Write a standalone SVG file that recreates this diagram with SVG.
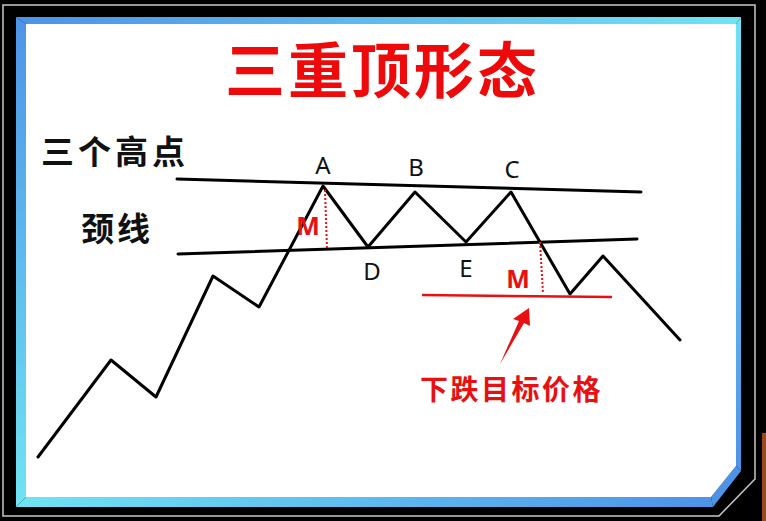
<svg xmlns="http://www.w3.org/2000/svg" width="766" height="521" viewBox="0 0 766 521">
<style>
.cjk{font-family:"Noto Sans CJK SC","Noto Sans",sans-serif;}
.lat{font-family:"Noto Sans","Liberation Sans",sans-serif;}
.lbl{font-size:24px;fill:#111;text-anchor:middle;}
.m{font-size:25px;font-weight:bold;fill:#e81010;text-anchor:middle;}
.blk{stroke:#000;stroke-width:3;fill:none;stroke-linejoin:round;stroke-linecap:round;}
.dot{stroke:#e81010;stroke-width:2;stroke-dasharray:2 2;fill:none;}
</style>
<defs>
<linearGradient id="gTop" x1="0" y1="0" x2="1" y2="0"><stop offset="0" stop-color="#4d93e8"/><stop offset="1" stop-color="#6fe4f4"/></linearGradient>
<linearGradient id="gBot" x1="0" y1="0" x2="1" y2="0"><stop offset="0" stop-color="#6fe4f4"/><stop offset="1" stop-color="#4d93e8"/></linearGradient>
<linearGradient id="gLeft" x1="0" y1="0" x2="0" y2="1"><stop offset="0" stop-color="#4d93e8"/><stop offset="1" stop-color="#6fe4f4"/></linearGradient>
<linearGradient id="gRight" x1="0" y1="0" x2="0" y2="1"><stop offset="0" stop-color="#6fe4f4"/><stop offset="1" stop-color="#4d93e8"/></linearGradient>
</defs>
<g id="frame">
<rect x="0" y="0" width="766" height="521" fill="#000"/>
<rect x="762" y="433" width="4" height="88" fill="#9a4a22"/>
<polygon points="3,5 755,5 755,479 719,516 3,516" fill="none" stroke="#c8c8c8" stroke-width="1.5"/>
<polygon points="16,17 741,17 736,24 26,24" fill="url(#gTop)"/>
<polygon points="741,17 741,471 736,466 736,24" fill="url(#gRight)"/>
<polygon points="741,471 713,507 711,497 736,466" fill="#4d93e8"/>
<polygon points="713,507 16,507 26,497 711,497" fill="url(#gBot)"/>
<polygon points="16,507 16,17 26,24 26,497" fill="url(#gLeft)"/>
<polygon points="26,24 736,24 736,466 711,497 26,497" fill="#fff"/>
</g>
<g id="title">
<text x="225" y="93" class="cjk" font-size="60" font-weight="bold" fill="#ee0a0a" letter-spacing="3">三重顶形态</text>
</g>
<g id="labels">
<text x="41" y="164" class="cjk" font-size="33" font-weight="bold" fill="#111" letter-spacing="4">三个高点</text>
<text x="81" y="241" class="cjk" font-size="33" font-weight="bold" fill="#111" letter-spacing="3">颈线</text>
</g>
<g id="connectors">
<line class="blk" x1="177" y1="179" x2="641" y2="192"/>
<line class="blk" x1="178" y1="254" x2="637" y2="239"/>
<polyline class="blk" points="38,457 111,360 156,397 213,276 259,307 323,186 368,247 415,192 466,242 511,192 570,294 603,256 680,340"/>
<line class="dot" x1="325" y1="190" x2="327" y2="249"/>
<line class="dot" x1="540" y1="242" x2="543" y2="293"/>
<line x1="422" y1="295" x2="612" y2="297" stroke="#e81010" stroke-width="2.5"/>
<polygon points="529,308 513,319 519,321 500,364 524,323 530,326" fill="#e81010"/>
</g>
<g id="points">
<text x="323" y="174" class="lat lbl">A</text>
<text x="416" y="176" class="lat lbl">B</text>
<text x="512" y="178" class="lat lbl">C</text>
<text x="372" y="280" class="lat lbl">D</text>
<text x="466" y="277" class="lat lbl">E</text>
<text x="308" y="235" class="lat m">M</text>
<text x="518" y="288" class="lat m">M</text>
</g>
<g id="target">
<text x="420" y="400" class="cjk" font-size="28" font-weight="bold" fill="#e81010" letter-spacing="2.5">下跌目标价格</text>
</g>
</svg>
